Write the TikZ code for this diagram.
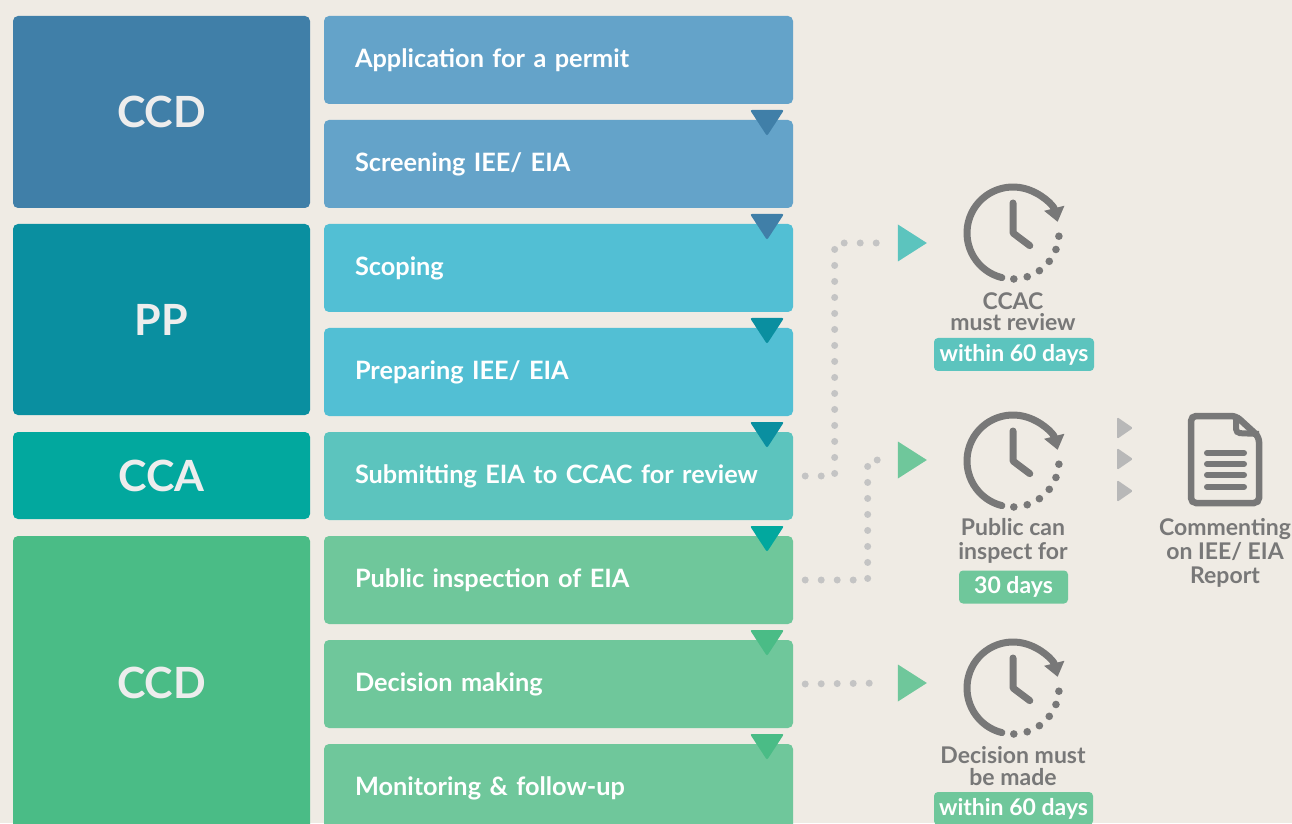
\documentclass[tikz,border=0pt]{standalone}
\usepackage{fontspec}
\setmainfont{Lato}
\usetikzlibrary{arrows.meta}
\usetikzlibrary{shapes.geometric}
\definecolor{bgcol}{HTML}{EFEBE4}
\definecolor{ccdblue}{HTML}{407FA8}
\definecolor{stepblue}{HTML}{64A3C9}
\definecolor{ppteal}{HTML}{0A8FA0}
\definecolor{stepcyan}{HTML}{52BFD4}
\definecolor{ccagreen}{HTML}{02A89E}
\definecolor{stepaqua}{HTML}{5CC4BE}
\definecolor{ccdgreen}{HTML}{4ABC86}
\definecolor{stepgreen}{HTML}{6FC79B}
\definecolor{icongray}{HTML}{787878}
\definecolor{dotgray}{HTML}{C4C4C4}
\definecolor{tipgray}{HTML}{B8B8B8}
\definecolor{labelwhite}{HTML}{EDEDED}

\begin{document}
\begin{tikzpicture}[x=1pt,y=1pt,
  group/.style={rounded corners=5pt,minimum width=297pt,inner sep=0pt,text=labelwhite,font=\fontsize{43}{47}\selectfont\bfseries},
  stepbox/.style={rounded corners=5pt,minimum height=88pt,text width=407pt,inner xsep=31pt,inner ysep=0pt,align=left,text=white,font=\fontsize{25.3}{29}\selectfont\bfseries},
  marker/.style={rounded corners=2pt},
  go/.style={isosceles triangle,isosceles triangle stretches,minimum width=37pt,minimum height=29pt,inner sep=0pt},
  dotline/.style={dotgray,line width=7pt,line cap=round,dash pattern=on 0pt off 16pt},
  note/.style={align=center,text=icongray,font=\fontsize{23}{24}\selectfont\bfseries},
  pill/.style={rounded corners=4pt,minimum height=33pt,inner sep=0pt,text=white,font=\fontsize{23}{26}\selectfont\bfseries},
  clock/.pic={
    \draw[icongray,line width=7pt,line cap=round,-{Triangle[length=14pt,width=20pt]}] (256:46) arc (256:14:46);
    \foreach \a in {-4,-21,-38,-55,-72,-89} \fill[icongray] (\a:46) circle (3.8pt);
    \draw[icongray,line width=7pt,line cap=round,line join=round] (0,30) -- (0,0) -- (-37:21);
  }]
\useasboundingbox (0,0) rectangle (1292,823);
\fill[bgcol] (0,0) rectangle (1292,823);

\node[group,fill=ccdblue,minimum height=192pt] (ccdtop) at (161.5,711) {CCD};
\node[group,fill=ppteal,minimum height=191pt] (pp) at (161.5,503.5) {PP};
\node[group,fill=ccagreen,minimum height=87pt] (cca) at (161.5,347.5) {CCA};
\node[group,fill=ccdgreen,minimum height=294pt] (ccdbot) at (161.5,140) {CCD};

\node[stepbox,fill=stepblue] (apply) at (558.5,763) {Application for a permit};
\node[stepbox,fill=stepblue] (screen) at (558.5,659) {Screening IEE/ EIA};
\node[stepbox,fill=stepcyan] (scope) at (558.5,555) {Scoping};
\node[stepbox,fill=stepcyan] (prepare) at (558.5,451) {Preparing IEE/ EIA};
\node[stepbox,fill=stepaqua] (submit) at (558.5,347) {Submitting EIA to CCAC for review};
\node[stepbox,fill=stepgreen] (public) at (558.5,243) {Public inspection of EIA};
\node[stepbox,fill=stepgreen] (decision) at (558.5,139) {Decision making};
\node[stepbox,fill=stepgreen] (monitor) at (558.5,35) {Monitoring \& follow-up};

\fill[marker,ccdblue] (750,713) -- (784,713) -- (767,687) -- cycle;
\fill[marker,ccdblue] (750,609) -- (784,609) -- (767,583) -- cycle;
\fill[marker,ppteal] (750,505) -- (784,505) -- (767,479) -- cycle;
\fill[marker,ppteal] (750,401) -- (784,401) -- (767,375) -- cycle;
\fill[marker,ccagreen] (750,297) -- (784,297) -- (767,271) -- cycle;
\fill[marker,ccdgreen] (750,193) -- (784,193) -- (767,167) -- cycle;
\fill[marker,ccdgreen] (750,89) -- (784,89) -- (767,63) -- cycle;

\node[go,fill=stepaqua] (go1) at (908,580) {};
\node[go,fill=stepgreen] (go2) at (908,363) {};
\node[go,fill=stepgreen] (go3) at (908,140) {};

\draw[dotline] ([xshift=12pt]submit.east) -| ([xshift=-63pt]go1.west) -- ([xshift=-18pt]go1.west);
\draw[dotline] ([xshift=12pt]public.east) -| ([xshift=-30pt]go2.west) -- ([xshift=-16pt]go2.west);
\draw[dotline] ([xshift=12pt]decision.east) -- ([xshift=-13pt]go3.west);

\pic (clkreview) at (1013,590) {clock};
\pic (clkinspect) at (1013,362) {clock};
\pic (clkdecide) at (1013,135) {clock};

\node[note] (review) at (1013,511) {CCAC\\[-3pt]must review};
\node[pill,fill=stepaqua,minimum width=160pt] (reviewdays) at (1014,468.5) {within 60 days};
\node[note] (inspect) at (1013,282) {Public can\\inspect for};
\node[pill,fill=stepgreen,minimum width=109pt] (inspectdays) at (1013.5,236) {30 days};
\node[note] (decide) at (1013,57) {Decision must\\[-2pt]be made};
\node[pill,fill=stepgreen,minimum width=159pt] (decidedays) at (1013.5,14.5) {within 60 days};

\fill[tipgray,rounded corners=1.5pt] (1117,406) -- (1133,395) -- (1117,384) -- cycle;
\fill[tipgray,rounded corners=1.5pt] (1117,375) -- (1133,364) -- (1117,353) -- cycle;
\fill[tipgray,rounded corners=1.5pt] (1117,343) -- (1133,332) -- (1117,321) -- cycle;

\draw[icongray,line width=6.5pt,rounded corners=5pt] (1236,407) -- (1191,407) -- (1191,320) -- (1259,320) -- (1259,386) -- cycle;
\draw[icongray,line width=6pt,rounded corners=4pt] (1236,407) -- (1236,390) -- (1259,389);
\draw[icongray,line width=6pt,line cap=round] (1207,370) -- (1244,370);
\draw[icongray,line width=6pt,line cap=round] (1207,359) -- (1244,359);
\draw[icongray,line width=6pt,line cap=round] (1207,348) -- (1244,348);
\draw[icongray,line width=6pt,line cap=round] (1207,336) -- (1244,336);

\node[note] (comment) at (1225,270) {Commenting\\on IEE/ EIA\\Report};
\end{tikzpicture}
\end{document}
